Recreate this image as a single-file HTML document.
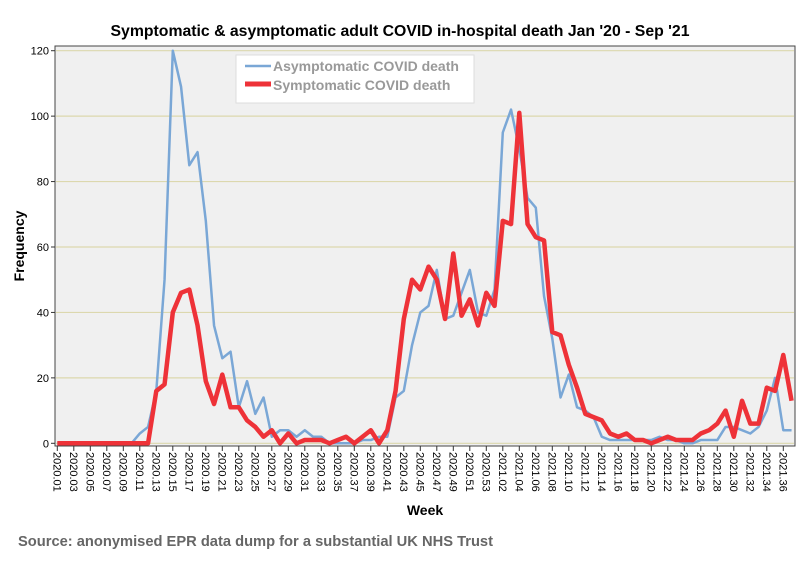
<!DOCTYPE html>
<html><head><meta charset="utf-8">
<style>
body{margin:0;background:#fff;font-family:"Liberation Sans",sans-serif;}
svg{display:block}
</style></head>
<body>
<svg id="chart" width="804" height="564" xmlns="http://www.w3.org/2000/svg">
<rect x="0" y="0" width="804" height="564" fill="#fff"/>
<text x="400" y="36" text-anchor="middle" font-family="Liberation Sans, sans-serif" font-weight="bold" font-size="15.8" fill="#000">Symptomatic &amp; asymptomatic adult COVID in-hospital death Jan '20 - Sep '21</text>
<rect x="55" y="46" width="740" height="400" fill="#f0f0f0" stroke="#444" stroke-width="1"/>
<g id="grid"></g>
<g id="yaxis"></g>
<g id="xaxis"></g>
<g id="series"></g>
<text transform="translate(24,246) rotate(-90)" text-anchor="middle" font-family="Liberation Sans, sans-serif" font-weight="bold" font-size="14" fill="#000">Frequency</text>
<text x="425" y="515" text-anchor="middle" font-family="Liberation Sans, sans-serif" font-weight="bold" font-size="14" fill="#000">Week</text>
<text x="18" y="546" font-family="Liberation Sans, sans-serif" font-weight="bold" font-size="14.7" fill="#666">Source: anonymised EPR data dump for a substantial UK NHS Trust</text>
<g>
<rect x="236" y="55" width="238" height="48" fill="#fff" stroke="#ddd"/>
<line x1="245" y1="66" x2="271" y2="66" stroke="#7aa7d6" stroke-width="2.5"/>
<text x="273" y="71" font-family="Liberation Sans, sans-serif" font-weight="bold" font-size="14" fill="#999">Asymptomatic COVID death</text>
<line x1="245" y1="84" x2="271" y2="84" stroke="#ee3238" stroke-width="5"/>
<text x="273" y="90" font-family="Liberation Sans, sans-serif" font-weight="bold" font-size="14" fill="#999">Symptomatic COVID death</text>
</g>
</svg>
<script>
const yTicks=[0,20,40,60,80,100,120];
const asymptomatic=[0,0,0,0,0,0,0,0,0,0,3,5,16,50,120,109,85,89,68,36,26,28,11,19,9,14,2,4,4,2,4,2,2,0,0,0,0,1,1,2,2,14,16,30,40,42,53,38,39,46,53,40,39,47,95,102,90,75,72,45,32,14,21,11,10,8,2,1,1,1,1,1,1,2,1,1,0,0,1,1,1,5,5,4,3,5,10,20,4,4];
const symptomatic=[0,0,0,0,0,0,0,0,0,0,0,0,16,18,40,46,47,36,19,12,21,11,11,7,5,2,4,0,3,0,1,1,1,0,1,2,0,2,4,0,4,16,38,50,47,54,50,38,58,39,44,36,46,42,68,67,101,67,63,62,34,33,24,17,9,8,7,3,2,3,1,1,0,1,2,1,1,1,3,4,6,10,2,13,6,6,17,16,27,13];
const weeks=[];
for(let w=1;w<=53;w++)weeks.push('2020.'+String(w).padStart(2,'0'));
for(let w=1;w<=37;w++)weeks.push('2021.'+String(w).padStart(2,'0'));

const NS='http://www.w3.org/2000/svg';
const X0=57.3,STEP=8.25,Y0=443.3,YS=(443.3-50.7)/120;
const xs=i=>X0+i*STEP;
const ys=v=>Y0-v*YS;
function mk(tag,attrs,parent){const e=document.createElementNS(NS,tag);for(const k in attrs)e.setAttribute(k,attrs[k]);parent.appendChild(e);return e;}
const grid=document.getElementById('grid'),ya=document.getElementById('yaxis'),xa=document.getElementById('xaxis'),ser=document.getElementById('series');
yTicks.forEach(t=>{
  const g=mk('line',{x1:56,x2:794,y1:ys(t),y2:ys(t),stroke:'#dcd8ae','stroke-width':1.2},grid);
  
  
  const tk=mk('line',{x1:51,x2:55,y1:ys(t),y2:ys(t),stroke:'#333'},ya);
  
  
  const tx=mk('text',{x:49,y:ys(t)+4,'text-anchor':'end','font-size':11,'font-family':'Liberation Sans, sans-serif',fill:'#000'},ya);
  tx.textContent=t;
  
  
});
weeks.forEach((wk,i)=>{
  if(i%2)return;
  const x=xs(i);
  const tk=mk('line',{x1:x,x2:x,y1:446,y2:451,stroke:'#333'},xa);
  
  
  const tx=mk('text',{transform:`translate(${x-4},452) rotate(90)`,'font-size':11,'font-family':'Liberation Sans, sans-serif',fill:'#000'},xa);
  tx.textContent=wk;
  
  
});
function line(arr,color,w,name){
  const p=mk('polyline',{points:arr.map((v,i)=>xs(i)+','+ys(v)).join(' '),fill:'none',stroke:color,'stroke-width':w,'stroke-linejoin':'round'},ser);
  
  
}
line(asymptomatic,'#7aa7d6',2.5,'asymptomatic-line');
line(symptomatic,'#ee3238',4.5,'symptomatic-line');
</script>
</body></html>
